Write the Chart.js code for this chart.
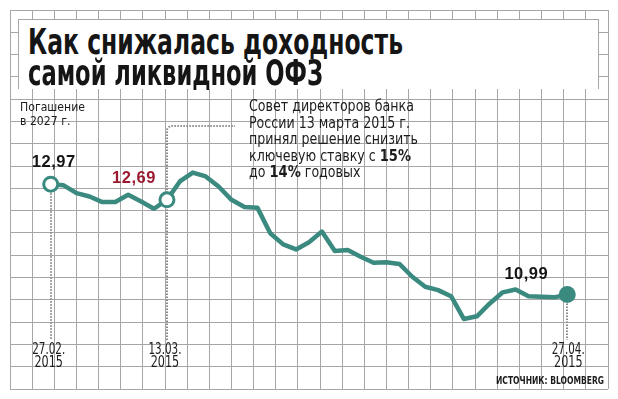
<!DOCTYPE html>
<html>
<head>
<meta charset="utf-8">
<script src="https://cdn.jsdelivr.net/npm/chart.js@4"></script>
<style>
    body { margin: 0; background: #fff; }
    #wrap { position: relative; width: 618px; height: 399px; overflow: hidden; }
    #chart { position: absolute; left: 0; top: 0; }
    .abs { position: absolute; white-space: nowrap; color: #1c1c1c; transform-origin: 0 0; }
    #titleBox { left: 18px; top: 19px; width: 581px; height: 70px; background: #fff;
        border: 1.5px solid #a6a6a6; border-bottom: none; box-sizing: border-box; }
    .title { font-family: "DejaVu Sans", sans-serif; font-stretch: condensed; font-weight: bold;
        font-size: 36px; line-height: 36px; color: #151515; left: 28px; }
    .note { font-family: "DejaVu Sans", sans-serif; font-stretch: condensed; font-size: 15px; line-height: 16.6px; }
    .note b { font-family: "DejaVu Sans", sans-serif; font-size: 15.5px; }
    .small { font-family: "DejaVu Sans", sans-serif; font-stretch: condensed; font-size: 12.5px; line-height: 14px; }
    .source { font-family: "DejaVu Sans", sans-serif; font-stretch: condensed; font-weight: bold; font-size: 10px; }
</style>
</head>
<body>
<div id="wrap">
    <canvas id="chart" width="618" height="399"></canvas>
    <div class="abs" id="titleBox"></div>
    <div class="abs title" style="top: 24px;" data-w="375">Как снижалась доходность</div>
    <div class="abs title" style="top: 55px;" data-w="295">самой ликвидной ОФЗ</div>
    <div class="abs small" style="left: 20px; top: 100px;" data-w="65">Погашение<br>в 2027 г.</div>
    <div class="abs note" style="left: 249px; top: 98px;" data-w="169">Совет директоров банка<br>России 13 марта 2015 г.<br>принял решение снизить<br>ключевую ставку с <b>15%</b><br>до <b>14%</b> годовых</div>
    <div class="abs source" style="left: 496px; top: 375px;" data-w="108">ИСТОЧНИК: BLOOMBERG</div>
</div>
<script>
// trading days, 27.02.2015 - 27.04.2015
const dates = [
    '27.02', '02.03', '03.03', '04.03', '05.03', '06.03', '10.03', '11.03', '12.03', '13.03',
    '16.03', '17.03', '18.03', '19.03', '20.03', '23.03', '24.03', '25.03', '26.03', '27.03',
    '30.03', '31.03', '01.04', '02.04', '03.04', '06.04', '07.04', '08.04', '09.04', '10.04',
    '13.04', '14.04', '15.04', '16.04', '17.04', '20.04', '21.04', '22.04', '23.04', '24.04',
    '27.04'
];

// yield, %
const yields = [
    12.97, 12.95, 12.81, 12.75, 12.65, 12.65, 12.78, 12.66, 12.53, 12.69,
    13.02, 13.18, 13.11, 12.93, 12.69, 12.56, 12.55, 12.09, 11.89, 11.80,
    11.93, 12.12, 11.77, 11.79, 11.67, 11.56, 11.57, 11.54, 11.31, 11.13,
    11.07, 10.96, 10.55, 10.60, 10.83, 11.03, 11.08, 10.96, 10.95, 10.94,
    10.99
];

// marked points and their date captions
const markIdx = [0, 9, 40];
const markDates = ['27.02.', '13.03.', '27.04.'];
const markYear = '2015';

const teal = '#3b8a80';

const radii = yields.map((v, i) => markIdx.includes(i) ? 7 : 0);
const fills = yields.map((v, i) => i === 40 ? teal : '#fff');

// squeeze text horizontally to a given width
function fitText(ctx, text, cx, y, w) {
    const m = ctx.measureText(text).width;
    ctx.save();
    ctx.translate(cx, y);
    ctx.scale(w / m, 1);
    ctx.fillText(text, 0, 0);
    ctx.restore();
}

const decorPlugin = {
    id: 'decor',
    beforeDatasetsDraw(chart) {
        const ctx = chart.ctx;
        const x = chart.scales.x;
        const y = chart.scales.y;
        ctx.save();
        ctx.strokeStyle = '#8a8a8a';
        ctx.lineWidth = 2;
        ctx.setLineDash([1.5, 1.5]);
        markIdx.forEach((idx, k) => {
            const px = Math.round(x.getPixelForValue(idx));
            const py = y.getPixelForValue(yields[idx]);
            ctx.beginPath();
            if (k === 1) {
                ctx.moveTo(px, 340);
                ctx.lineTo(px, 131);
                ctx.arcTo(px, 126, px + 5, 126, 5);
                ctx.lineTo(235, 126);
            } else {
                ctx.moveTo(px, py);
                ctx.lineTo(px, 340);
            }
            ctx.stroke();
        });
        ctx.restore();
    },
    afterDatasetsDraw(chart) {
        const ctx = chart.ctx;
        const x = chart.scales.x;
        const y = chart.scales.y;
        ctx.save();
        ctx.textAlign = 'center';
        ctx.textBaseline = 'alphabetic';

        // value captions
        const offs = [[3, -17, '#151515'], [-33, -17, '#9b1a30'], [-41, -16, '#151515']];
        ctx.font = 'bold 16.5px "Liberation Sans", sans-serif';
        markIdx.forEach((idx, k) => {
            const px = x.getPixelForValue(idx);
            const py = y.getPixelForValue(yields[idx]);
            ctx.fillStyle = offs[k][2];
            ctx.letterSpacing = '0.5px';
            ctx.fillText(yields[idx].toFixed(2).replace('.', ','), px + offs[k][0], py + offs[k][1]);
        });

        // date captions
        ctx.font = '16px "DejaVu Sans", sans-serif';
        ctx.letterSpacing = '0px';
        ctx.fillStyle = '#1c1c1c';
        markIdx.forEach((idx, k) => {
            const px = x.getPixelForValue(idx);
            const dx = [-2, -2, 1][k];
            fitText(ctx, markDates[k], px + dx, 353.5, 33);
            fitText(ctx, markYear, px + dx, 367, 28.5);
        });
        ctx.restore();
    }
};

new Chart(document.getElementById('chart'), {
    type: 'line',
    data: {
        labels: dates,
        datasets: [{
            data: yields.map((v, i) => ({ x: i, y: v })),
            borderColor: teal,
            borderWidth: 4.5,
            borderJoinStyle: 'round',
            tension: 0,
            pointRadius: radii,
            pointBackgroundColor: fills,
            pointBorderColor: teal,
            pointBorderWidth: 3,
            xAxisID: 'x',
            yAxisID: 'y'
        }]
    },
    options: {
        responsive: false,
        animation: false,
        devicePixelRatio: 1,
        layout: { padding: { left: 9, top: 7, right: 7, bottom: 7 } },
        plugins: {
            legend: { display: false },
            tooltip: { enabled: false }
        },
        scales: {
            x: { type: 'linear', display: false, min: -3.154, max: 43.154 },
            y: { type: 'linear', display: false, min: 9.295, max: 16.097 },
            gx: {
                type: 'linear', position: 'top', min: 0, max: 27,
                ticks: { display: false, stepSize: 1, includeBounds: false },
                grid: { color: '#a6a6a6', lineWidth: 1, drawTicks: false },
                border: { display: false }
            },
            gy: {
                type: 'linear', position: 'left', min: 0, max: 17,
                ticks: { display: false, stepSize: 1, includeBounds: false },
                grid: { color: '#a6a6a6', lineWidth: 1, drawTicks: false },
                border: { display: false }
            }
        }
    },
    plugins: [decorPlugin]
});

// fit the html captions to the widths they have in the original
document.querySelectorAll('[data-w]').forEach(el => {
    const w = el.getBoundingClientRect().width;
    el.style.transform = 'scaleX(' + (el.dataset.w / w) + ')';
});
</script>
</body>
</html>
